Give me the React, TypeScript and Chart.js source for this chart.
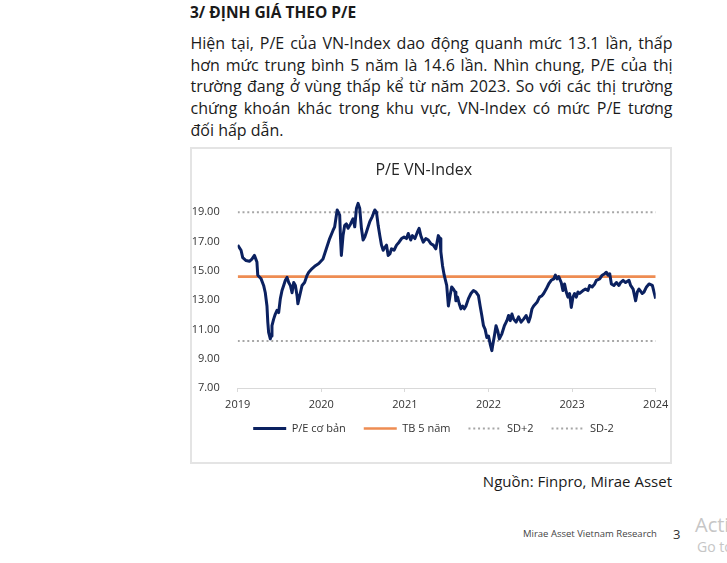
import React, { useEffect, useRef } from "react";
import { Chart, registerables } from "chart.js";

Chart.register(...registerables);

const YEAR_TICKS = [2019, 2020, 2021, 2022, 2023, 2024];
const Y_TICKS = [7, 9, 11, 13, 15, 17, 19];

const DATES = [
  2019.0, 2019.04, 2019.06, 2019.1, 2019.14, 2019.17, 2019.2, 2019.23, 2019.24, 2019.28,
  2019.31, 2019.33, 2019.35, 2019.36, 2019.37, 2019.39, 2019.4, 2019.41, 2019.43, 2019.45,
  2019.47, 2019.49, 2019.51, 2019.53, 2019.55, 2019.57, 2019.59, 2019.61, 2019.63, 2019.65,
  2019.67, 2019.69, 2019.71, 2019.72, 2019.75, 2019.77, 2019.8, 2019.83, 2019.85, 2019.89,
  2019.93, 2019.97, 2020.02, 2020.06, 2020.1, 2020.14, 2020.16, 2020.19, 2020.22, 2020.23,
  2020.24, 2020.26, 2020.28, 2020.3, 2020.32, 2020.35, 2020.38, 2020.4, 2020.42, 2020.44,
  2020.46, 2020.48, 2020.5, 2020.52, 2020.54, 2020.56, 2020.58, 2020.61, 2020.64, 2020.66,
  2020.68, 2020.7, 2020.72, 2020.74, 2020.76, 2020.78, 2020.8, 2020.82, 2020.84, 2020.87,
  2020.9, 2020.93, 2020.96, 2020.99, 2021.02, 2021.04, 2021.07, 2021.09, 2021.12, 2021.15,
  2021.17, 2021.19, 2021.22, 2021.25, 2021.28, 2021.31, 2021.34, 2021.37, 2021.4, 2021.42,
  2021.43, 2021.45, 2021.47, 2021.5, 2021.52, 2021.54, 2021.56, 2021.58, 2021.6, 2021.61,
  2021.63, 2021.65, 2021.67, 2021.69, 2021.71, 2021.73, 2021.76, 2021.79, 2021.82, 2021.85,
  2021.88, 2021.9, 2021.92, 2021.94, 2021.96, 2021.98, 2022.0, 2022.02, 2022.04, 2022.05,
  2022.07, 2022.09, 2022.11, 2022.13, 2022.16, 2022.19, 2022.22, 2022.24, 2022.26, 2022.28,
  2022.3, 2022.33, 2022.36, 2022.39, 2022.42, 2022.45, 2022.48, 2022.5, 2022.52, 2022.54,
  2022.58, 2022.61, 2022.64, 2022.66, 2022.69, 2022.72, 2022.75, 2022.78, 2022.8, 2022.82,
  2022.84, 2022.87, 2022.89, 2022.91, 2022.93, 2022.95, 2022.97, 2022.99, 2023.01, 2023.03,
  2023.05, 2023.07, 2023.09, 2023.13, 2023.16, 2023.19, 2023.21, 2023.24, 2023.27, 2023.29,
  2023.33, 2023.36, 2023.39, 2023.41, 2023.43, 2023.45, 2023.47, 2023.5, 2023.53, 2023.56,
  2023.58, 2023.61, 2023.64, 2023.68, 2023.7, 2023.73, 2023.76, 2023.78, 2023.8, 2023.84,
  2023.86, 2023.89, 2023.92, 2023.96, 2023.98, 2024.0,
];

const PE_VALUES = [
  16.75, 16.4, 15.9, 15.7, 15.65, 15.8, 16.05, 15.6, 14.7, 14.45,
  14.0, 13.5, 12.6, 11.5, 10.8, 10.35, 10.55, 11.25, 11.7, 12.05,
  12.3, 12.15, 13.1, 13.65, 14.0, 14.35, 14.55, 14.2, 14.0, 13.5,
  14.2, 14.0, 13.3, 12.75, 13.5, 14.0, 14.2, 14.7, 14.9, 15.15,
  15.35, 15.5, 15.8, 16.5, 17.2, 17.75, 18.0, 19.15, 18.8, 17.2,
  16.05, 17.4, 18.1, 18.2, 17.9, 18.2, 18.55, 18.0, 19.25, 19.6,
  19.25, 17.9, 17.1, 17.3, 17.65, 18.0, 18.35, 18.7, 19.15, 19.0,
  18.1, 17.4, 16.75, 16.4, 16.6, 16.75, 16.05, 16.15, 16.5, 16.4,
  16.75, 16.95, 17.2, 17.3, 17.2, 17.55, 17.1, 17.4, 17.2, 17.65,
  17.9, 17.4, 16.95, 17.2, 17.1, 16.85, 16.75, 16.5, 17.4, 17.2,
  16.3, 15.35, 14.7, 14.0, 12.6, 13.3, 13.9, 13.75, 13.55, 12.95,
  13.2, 12.75, 12.4, 12.6, 12.4, 12.6, 13.1, 13.45, 13.65, 13.55,
  13.3, 12.6, 11.95, 11.25, 11.0, 10.45, 10.55, 10.0, 9.55, 9.9,
  10.55, 11.25, 10.9, 10.35, 10.7, 11.25, 11.6, 11.95, 11.6, 12.05,
  11.7, 11.5, 11.85, 11.5, 11.7, 11.95, 11.5, 11.85, 12.4, 12.6,
  12.85, 13.2, 13.3, 13.45, 13.75, 14.1, 14.35, 14.45, 14.7, 14.45,
  14.6, 14.2, 13.65, 14.1, 13.55, 13.2, 13.45, 12.5, 13.2, 13.45,
  13.2, 13.55, 13.45, 13.65, 13.75, 13.65, 14.0, 13.9, 14.1, 14.35,
  14.45, 14.7, 14.8, 14.9, 14.7, 14.8, 14.1, 14.0, 14.2, 14.0,
  14.2, 14.35, 14.2, 14.35, 14.0, 13.75, 12.95, 13.55, 13.75, 13.45,
  13.55, 13.9, 14.1, 14.0, 13.55, 13.1,
];

const MEAN_5Y = 14.6;
const SD_PLUS_2 = 19.0;
const SD_MINUS_2 = 10.2;

const SERIES_NAMES = ["P/E cơ bản", "TB 5 năm", "SD+2", "SD-2"];

const PARAGRAPH_LINES = [
  "Hiện tại, P/E của VN-Index dao động quanh mức 13.1 lần, thấp",
  "hơn mức trung bình 5 năm là 14.6 lần. Nhìn chung, P/E của thị",
  "trường đang ở vùng thấp kể từ năm 2023. So với các thị trường",
  "chứng khoán khác trong khu vực, VN-Index có mức P/E tương",
  "đối hấp dẫn.",
];

const FONT = "'Open Sans', 'Noto Sans', sans-serif";

const legendShift = {
  id: "legendShift",
  afterLayout(chart: any) {
    const l = chart.legend;
    if (!l) return;
    l.top -= 7;
    l.bottom -= 7;
    l.left += 9.7;
    l.right += 9.7;
  },
};

function PEChart() {
  const ref = useRef<HTMLCanvasElement | null>(null);
  useEffect(() => {
    if (!ref.current) return;
    const x0 = YEAR_TICKS[0];
    const x1 = YEAR_TICKS[YEAR_TICKS.length - 1];
    const flat = (v: number) => [
      { x: x0, y: v },
      { x: x1, y: v },
    ];
    const chart = new Chart(ref.current, {
      type: "line",
      data: {
        datasets: [
          {
            label: SERIES_NAMES[0],
            data: DATES.map((d, i) => ({ x: d, y: PE_VALUES[i] })),
            borderColor: "#0b2160",
            borderWidth: 3,
            pointRadius: 0,
            tension: 0,
            borderJoinStyle: "round",
          },
          {
            label: SERIES_NAMES[1],
            data: flat(MEAN_5Y),
            borderColor: "#EE8C52",
            borderWidth: 2.6,
            pointRadius: 0,
          },
          {
            label: SERIES_NAMES[2],
            data: flat(SD_PLUS_2),
            borderColor: "#a6a6a6",
            borderWidth: 2,
            borderDash: [2, 2.8],
            pointRadius: 0,
          },
          {
            label: SERIES_NAMES[3],
            data: flat(SD_MINUS_2),
            borderColor: "#a6a6a6",
            borderWidth: 2,
            borderDash: [2, 2.8],
            pointRadius: 0,
          },
        ],
      },
      plugins: [legendShift],
      options: {
        animation: false,
        responsive: false,
        maintainAspectRatio: false,
        layout: { padding: { left: 0, right: 14.3, top: 0, bottom: 11 } },
        plugins: {
          tooltip: { enabled: false },
          title: {
            display: true,
            text: "P/E VN-Index",
            color: "#262626",
            font: { family: FONT, size: 16, weight: "normal" },
            padding: { top: 12, bottom: 10 },
          },
          legend: {
            position: "bottom",
            labels: {
              usePointStyle: true,
              pointStyle: "line",
              pointStyleWidth: 33,
              color: "#333333",
              font: { family: FONT, size: 11 },
              padding: 18,
              generateLabels: (c: any) => {
                const items = Chart.defaults.plugins.legend.labels.generateLabels(c);
                items.forEach((it: any, i: number) => {
                  const ds: any = c.data.datasets[i];
                  it.lineDash = ds.borderDash || [];
                  it.lineWidth = ds.borderWidth;
                  it.strokeStyle = ds.borderColor;
                  it.lineCap = "butt";
                });
                return items;
              },
            },
          },
        },
        scales: {
          x: {
            type: "linear",
            min: x0,
            max: x1,
            afterBuildTicks: (s: any) => {
              s.ticks = YEAR_TICKS.map((v) => ({ value: v }));
            },
            afterFit: (s: any) => {
              s.height = 24;
              s.paddingLeft = 0;
              s.paddingRight = 0;
            },
            ticks: {
              callback: (v: any) => String(v),
              color: "#333333",
              font: { family: FONT, size: 11 },
              padding: 6,
              maxRotation: 0,
              autoSkip: false,
            },
            grid: {
              display: true,
              drawOnChartArea: false,
              drawTicks: true,
              tickLength: 4,
              color: "#d9d9d9",
            },
            border: { display: true, color: "#d9d9d9", width: 1 },
          },
          y: {
            min: 7,
            max: 20.5,
            afterBuildTicks: (s: any) => {
              s.ticks = Y_TICKS.map((v) => ({ value: v }));
            },
            afterFit: (s: any) => {
              s.width = 45.7;
            },
            ticks: {
              callback: (v: any) => Number(v).toFixed(2),
              color: "#333333",
              font: { family: FONT, size: 11 },
              padding: 10,
            },
            grid: { display: false },
            border: { display: false },
          },
        },
      },
    } as any);
    return () => chart.destroy();
  }, []);
  return (
    <canvas
      ref={ref}
      width={478}
      height={313}
      style={{ position: "absolute", left: 192, top: 149, width: 478, height: 313 }}
    />
  );
}

export default function App() {
  return (
    <div
      style={{
        position: "absolute",
        left: 0,
        top: 0,
        width: 727,
        height: 563,
        overflow: "hidden",
        background: "#ffffff",
        fontFamily: FONT,
        color: "#1a1a1a",
      }}
    >
      <div
        style={{
          position: "absolute",
          left: 190,
          top: 2,
          fontSize: 15.5,
          fontWeight: 700,
          lineHeight: "21px",
          whiteSpace: "nowrap",
        }}
      >
        3/ ĐỊNH GIÁ THEO P/E
      </div>
      <div style={{ position: "absolute", left: 190.5, top: 33, width: 482, fontSize: 16, lineHeight: "21.7px" }}>
        {PARAGRAPH_LINES.map((line, i) => (
          <div
            key={i}
            style={{
              textAlign: i < PARAGRAPH_LINES.length - 1 ? "justify" : "left",
              textAlignLast: i < PARAGRAPH_LINES.length - 1 ? "justify" : "left",
              whiteSpace: "nowrap",
            }}
          >
            {line}
          </div>
        ))}
      </div>
      <div
        style={{
          position: "absolute",
          left: 190,
          top: 147,
          width: 478,
          height: 313,
          border: "2px solid #e4e4e4",
        }}
      />
      <PEChart />
      <div
        style={{
          position: "absolute",
          right: 727 - 672,
          top: 471,
          fontSize: 15,
          lineHeight: "20px",
          whiteSpace: "nowrap",
        }}
      >
        Nguồn: Finpro, Mirae Asset
      </div>
      <div
        style={{
          position: "absolute",
          left: 523,
          top: 527,
          fontSize: 9.5,
          lineHeight: "14px",
          color: "#444444",
          whiteSpace: "nowrap",
        }}
      >
        Mirae Asset Vietnam Research
      </div>
      <div
        style={{
          position: "absolute",
          left: 673,
          top: 525,
          fontSize: 13,
          lineHeight: "18px",
          color: "#333333",
        }}
      >
        3
      </div>
      <div
        style={{
          position: "absolute",
          left: 695,
          top: 512,
          fontSize: 20,
          lineHeight: "26px",
          color: "#c6c6c6",
          whiteSpace: "nowrap",
        }}
      >
        Activate Windows
      </div>
      <div
        style={{
          position: "absolute",
          left: 697,
          top: 537,
          fontSize: 14,
          lineHeight: "19px",
          color: "#c6c6c6",
          whiteSpace: "nowrap",
        }}
      >
        Go to Settings to activate Windows.
      </div>
    </div>
  );
}
